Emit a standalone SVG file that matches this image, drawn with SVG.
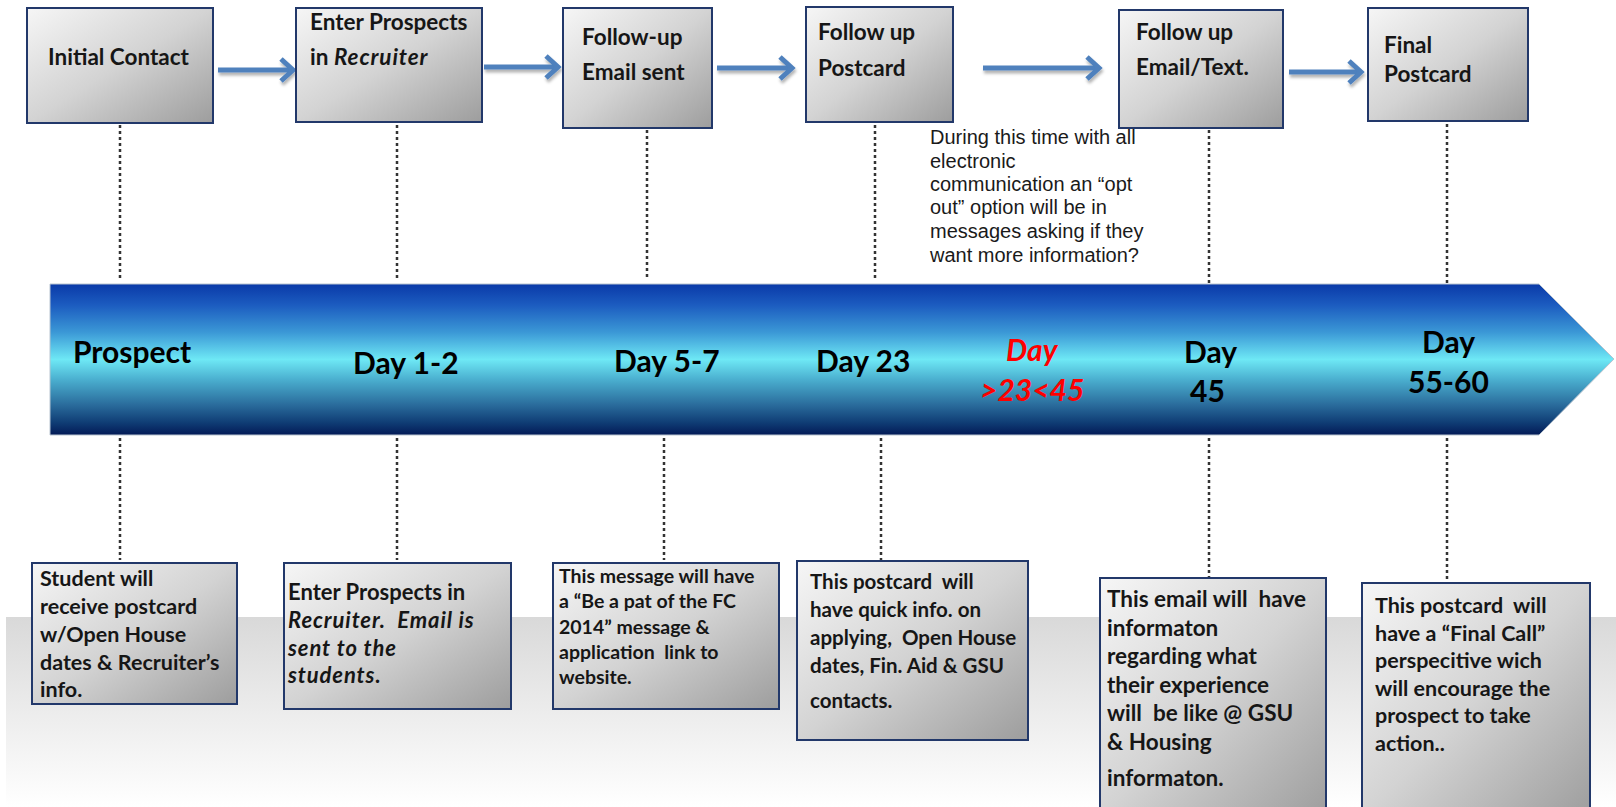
<svg xmlns="http://www.w3.org/2000/svg" width="1616" height="807" viewBox="0 0 1616 807">
<defs>
  <linearGradient id="boxg" x1="0" y1="0" x2="1" y2="1">
    <stop offset="0" stop-color="#f6f6f6"/>
    <stop offset="0.5" stop-color="#d3d3d3"/>
    <stop offset="1" stop-color="#9d9d9d"/>
  </linearGradient>
  <linearGradient id="bandg" x1="0" y1="0" x2="0" y2="1">
    <stop offset="0" stop-color="#0a3aa8"/>
    <stop offset="0.14" stop-color="#1c5cc0"/>
    <stop offset="0.32" stop-color="#3b98d6"/>
    <stop offset="0.5" stop-color="#6ee8f5"/>
    <stop offset="0.63" stop-color="#4bb0d0"/>
    <stop offset="0.8" stop-color="#2a6c9c"/>
    <stop offset="0.92" stop-color="#0f3c74"/>
    <stop offset="1" stop-color="#031a56"/>
  </linearGradient>
  <linearGradient id="floorg" x1="0" y1="0" x2="0" y2="1">
    <stop offset="0" stop-color="#d9d9d9"/>
    <stop offset="0.55" stop-color="#eeeeee"/>
    <stop offset="1" stop-color="#ffffff"/>
  </linearGradient>
  <marker id="ah" markerUnits="userSpaceOnUse" viewBox="0 0 20 28" markerWidth="20" markerHeight="28" refX="15" refY="14" orient="auto">
    <path d="M3,3 L15,14 L3,25" fill="none" stroke="#4f81bd" stroke-width="5"/>
  </marker>
  <filter id="sh" filterUnits="userSpaceOnUse" x="0" y="0" width="1616" height="200">
    <feDropShadow dx="1" dy="3" stdDeviation="1.5" flood-color="#000" flood-opacity="0.3"/>
  </filter>
</defs>
<style>
  .box{fill:url(#boxg);stroke:#22386a;stroke-width:2}
  .tt{font-family:Lato,"Liberation Sans",sans-serif;font-weight:bold;font-size:22.5px;fill:#161616}
  .bl{font-family:Lato,"Liberation Sans",sans-serif;font-weight:bold;font-size:30px;fill:#000}
  .red{fill:#ff0000;font-style:italic}
  .bt{font-family:Lato,"Liberation Sans",sans-serif;font-weight:bold;fill:#161616}
  .it{font-style:italic;letter-spacing:0.9px}
  .note{font-family:"Liberation Sans",Arial,sans-serif;font-size:20px;fill:#1a1a1a}
  .arr{stroke:#4f81bd;stroke-width:5;fill:none;marker-end:url(#ah)}
  .dot{stroke:#333;stroke-width:2.5;stroke-dasharray:3 3;fill:none}
</style>
<rect x="0" y="0" width="1616" height="807" fill="#ffffff"/>
<rect x="6" y="617" width="1610" height="190" fill="url(#floorg)"/>

<g id="timeline-band">
  <polygon points="50,284 1539,284 1614,359 1539,435 50,435" fill="url(#bandg)" stroke="#b8c4d0" stroke-width="1"/>
</g>

<g id="connectors">
  <g filter="url(#sh)">
    <line class="arr" x1="218" y1="70" x2="293" y2="70"/>
    <line class="arr" x1="484" y1="67" x2="558" y2="67"/>
    <line class="arr" x1="717" y1="68" x2="792" y2="68"/>
    <line class="arr" x1="983" y1="68" x2="1099" y2="68"/>
    <line class="arr" x1="1289" y1="72" x2="1361" y2="72"/>
  </g>
  <line class="dot" x1="120" y1="125" x2="120" y2="280"/>
  <line class="dot" x1="397" y1="125" x2="397" y2="280"/>
  <line class="dot" x1="647" y1="130" x2="647" y2="280"/>
  <line class="dot" x1="875" y1="125" x2="875" y2="280"/>
  <line class="dot" x1="1209" y1="130" x2="1209" y2="283"/>
  <line class="dot" x1="1447" y1="124" x2="1447" y2="283"/>
  <line class="dot" x1="120" y1="438" x2="120" y2="560"/>
  <line class="dot" x1="397" y1="438" x2="397" y2="560"/>
  <line class="dot" x1="664" y1="438" x2="664" y2="560"/>
  <line class="dot" x1="881" y1="438" x2="881" y2="560"/>
  <line class="dot" x1="1209" y1="438" x2="1209" y2="577"/>
  <line class="dot" x1="1447" y1="438" x2="1447" y2="580"/>
</g>

<g id="node-initial-contact">
  <rect class="box" x="27" y="8" width="186" height="115"/>
  <text class="tt" x="48" y="65">Initial Contact</text>
</g>
<g id="node-enter-prospects">
  <rect class="box" x="296" y="8" width="186" height="114"/>
  <text class="tt" x="310" y="30">Enter Prospects</text>
  <text class="tt" x="310" y="65">in <tspan class="it">Recruiter</tspan></text>
</g>
<g id="node-followup-email">
  <rect class="box" x="563" y="8" width="149" height="120"/>
  <text class="tt" x="582" y="45">Follow-up</text>
  <text class="tt" x="582" y="80">Email sent</text>
</g>
<g id="node-followup-postcard">
  <rect class="box" x="806" y="7" width="147" height="115"/>
  <text class="tt" x="818" y="40">Follow up</text>
  <text class="tt" x="818" y="76">Postcard</text>
</g>
<g id="node-followup-emailtext">
  <rect class="box" x="1119" y="10" width="164" height="118"/>
  <text class="tt" x="1136" y="40">Follow up</text>
  <text class="tt" x="1136" y="75">Email/Text.</text>
</g>
<g id="node-final-postcard">
  <rect class="box" x="1368" y="8" width="160" height="113"/>
  <text class="tt" x="1384" y="53">Final</text>
  <text class="tt" x="1384" y="82">Postcard</text>
</g>

<g id="note-opt-out">
  <text class="note" x="930" y="144">During this time with all</text>
  <text class="note" x="930" y="168">electronic</text>
  <text class="note" x="930" y="191">communication an “opt</text>
  <text class="note" x="930" y="214">out” option will be in</text>
  <text class="note" x="930" y="238">messages asking if they</text>
  <text class="note" x="930" y="262">want more information?</text>
</g>

<g id="label-prospect"><text class="bl" x="73" y="363">Prospect</text></g>
<g id="label-day1-2"><text class="bl" x="353" y="374">Day 1-2</text></g>
<g id="label-day5-7"><text class="bl" x="614" y="372">Day 5-7</text></g>
<g id="label-day23"><text class="bl" x="816" y="372">Day 23</text></g>
<g id="label-day23-45">
  <text class="bl red" x="1006" y="361">Day</text>
  <text class="bl red" x="980" y="401">&gt;23&lt;45</text>
</g>
<g id="label-day45">
  <text class="bl" x="1184" y="363">Day</text>
  <text class="bl" x="1190" y="402">45</text>
</g>
<g id="label-day55-60">
  <text class="bl" x="1422" y="353">Day</text>
  <text class="bl" x="1408" y="393">55-60</text>
</g>

<g id="desc-prospect">
  <rect class="box" x="32" y="563" width="205" height="141"/>
  <g class="bt" font-size="21.5">
    <text x="40" y="586">Student will</text>
    <text x="40" y="614">receive postcard</text>
    <text x="40" y="642">w/Open House</text>
    <text x="40" y="670">dates &amp; Recruiter’s</text>
    <text x="40" y="697">info.</text>
  </g>
</g>
<g id="desc-day1-2">
  <rect class="box" x="284" y="563" width="227" height="146"/>
  <g class="bt" font-size="22">
    <text x="288" y="600">Enter Prospects in</text>
    <text x="288" y="628" class="it">Recruiter.&#160; Email is</text>
    <text x="288" y="656" class="it">sent to the</text>
    <text x="288" y="683" class="it">students.</text>
  </g>
</g>
<g id="desc-day5-7">
  <rect class="box" x="553" y="563" width="226" height="146"/>
  <g class="bt" font-size="19.5">
    <text x="559" y="583">This message will have</text>
    <text x="559" y="608">a “Be a pat of the FC</text>
    <text x="559" y="634">2014” message &amp;</text>
    <text x="559" y="659">application&#160; link to</text>
    <text x="559" y="684">website.</text>
  </g>
</g>
<g id="desc-day23">
  <rect class="box" x="797" y="561" width="231" height="179"/>
  <g class="bt" font-size="20.5">
    <text x="810" y="589">This postcard&#160; will</text>
    <text x="810" y="617">have quick info. on</text>
    <text x="810" y="645">applying,&#160; Open House</text>
    <text x="810" y="673">dates, Fin. Aid &amp; GSU</text>
    <text x="810" y="708">contacts.</text>
  </g>
</g>
<g id="desc-day45">
  <rect class="box" x="1100" y="578" width="226" height="240"/>
  <g class="bt" font-size="22.5">
    <text x="1107" y="607">This email will&#160; have</text>
    <text x="1107" y="636">informaton</text>
    <text x="1107" y="664">regarding what</text>
    <text x="1107" y="693">their experience</text>
    <text x="1107" y="721">will&#160; be like @ GSU</text>
    <text x="1107" y="750">&amp; Housing</text>
    <text x="1107" y="786">informaton.</text>
  </g>
</g>
<g id="desc-day55-60">
  <rect class="box" x="1362" y="583" width="228" height="235"/>
  <g class="bt" font-size="21.5">
    <text x="1375" y="613">This postcard&#160; will</text>
    <text x="1375" y="641">have a “Final Call”</text>
    <text x="1375" y="668">perspecitive wich</text>
    <text x="1375" y="696">will encourage the</text>
    <text x="1375" y="723">prospect to take</text>
    <text x="1375" y="751">action..</text>
  </g>
</g>
</svg>
